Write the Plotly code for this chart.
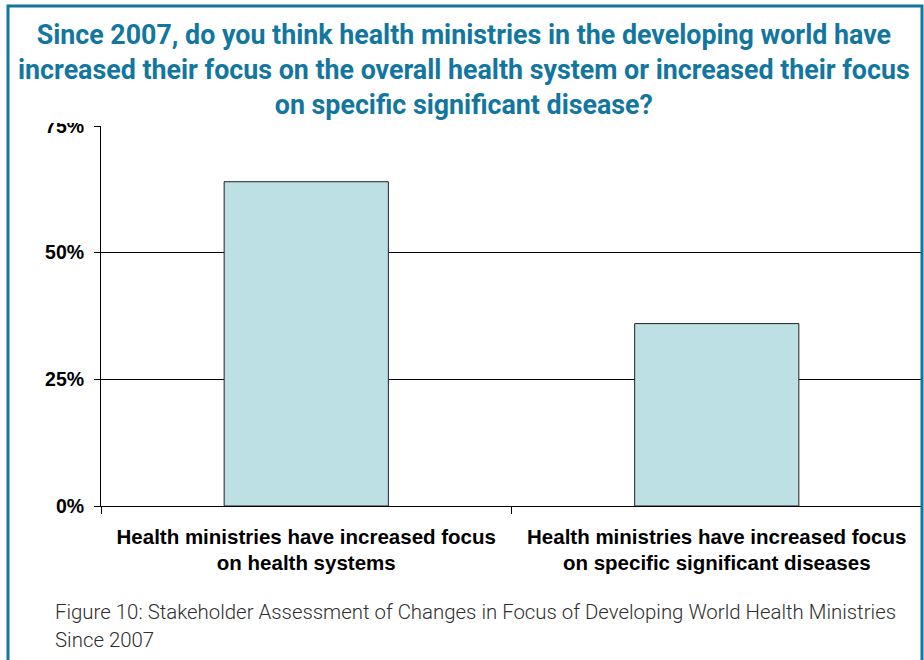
import plotly.graph_objects as go

categories = ["Health ministries have increased focus<br>on health systems",
              "Health ministries have increased focus<br>on specific significant diseases"]
values = [64, 36]
tick_vals = [0, 25, 50, 75]
tick_text = ["0%", "25%", "50%", "75%"]
title_text = ("Since 2007, do you think health ministries in the developing world have<br>"
              "increased their focus on the overall health system or increased their focus<br>"
              "on specific significant disease?")
caption_lines = ["Figure 10: Stakeholder Assessment of Changes in Focus of Developing World Health Ministries",
                 "Since 2007"]

W, H = 924, 660
L, R, T, B = 101, 2, 126, 154
pw = W - L - R
ph = H - T - B

def px_x(x):
    return (x - L) / pw

def px_y(y):
    return (H - B - y) / ph

fig = go.Figure()
fig.add_trace(go.Bar(
    x=categories, y=values, width=0.4,
    marker=dict(color="#BDE0E4", line=dict(color="#222222", width=1)),
    hoverinfo="skip",
))

teal = "#13769F"
shapes = [
    dict(type="rect", xref="paper", yref="paper", layer="above",
         x0=px_x(10), x1=px_x(920), y0=px_y(123), y1=px_y(8),
         fillcolor="white", line=dict(width=0)),
    dict(type="rect", xref="paper", yref="paper", layer="above",
         x0=px_x(8), x1=px_x(922), y0=px_y(700), y1=px_y(6),
         fillcolor="rgba(0,0,0,0)", line=dict(color=teal, width=3)),
]

annotations = [
    dict(text="<b>" + title_text + "</b>", xref="paper", yref="paper",
         x=px_x(464), y=px_y(70.5), xanchor="center", yanchor="middle",
         showarrow=False, align="center",
         font=dict(family="Roboto", size=26.8, color=teal)),
    dict(text=caption_lines[0], xref="paper", yref="paper",
         x=px_x(53), y=px_y(612), xanchor="left", yanchor="middle", showarrow=False,
         font=dict(family="Roboto", size=20.4, weight=300, color="#2E2E2E")),
    dict(text=caption_lines[1], xref="paper", yref="paper",
         x=px_x(53), y=px_y(640), xanchor="left", yanchor="middle", showarrow=False,
         font=dict(family="Roboto", size=20.4, weight=300, color="#2E2E2E")),
]

fig.update_layout(
    width=W, height=H,
    margin=dict(l=L, r=R, t=T, b=B, pad=0),
    paper_bgcolor="white", plot_bgcolor="white",
    showlegend=False,
    shapes=shapes, annotations=annotations,
    font=dict(family="Liberation Sans, Arial", color="black"),
)
fig.update_xaxes(
    type="category", tickson="boundaries", ticks="outside", ticklen=7, tickcolor="black",
    showline=True, linecolor="black", linewidth=1, showgrid=False,
    tickfont=dict(family="Liberation Sans, Arial", size=20.5, color="black"),
    ticklabelstandoff=12,
    tickvals=categories, ticktext=["<b>" + c + "</b>" for c in categories],
)
fig.update_yaxes(
    range=[0, 75], tickvals=tick_vals, ticktext=["<b>" + t + "</b>" for t in tick_text],
    ticks="outside", ticklen=6, tickcolor="black",
    showline=True, linecolor="black", linewidth=1,
    showgrid=True, gridcolor="black", gridwidth=1, zeroline=False,
    tickfont=dict(family="Liberation Sans, Arial", size=19.5, color="black"),
    ticklabelstandoff=6,
)

fig.write_html("out.html", config={"displayModeBar": False},
               post_script="document.body.style.margin='0';")
